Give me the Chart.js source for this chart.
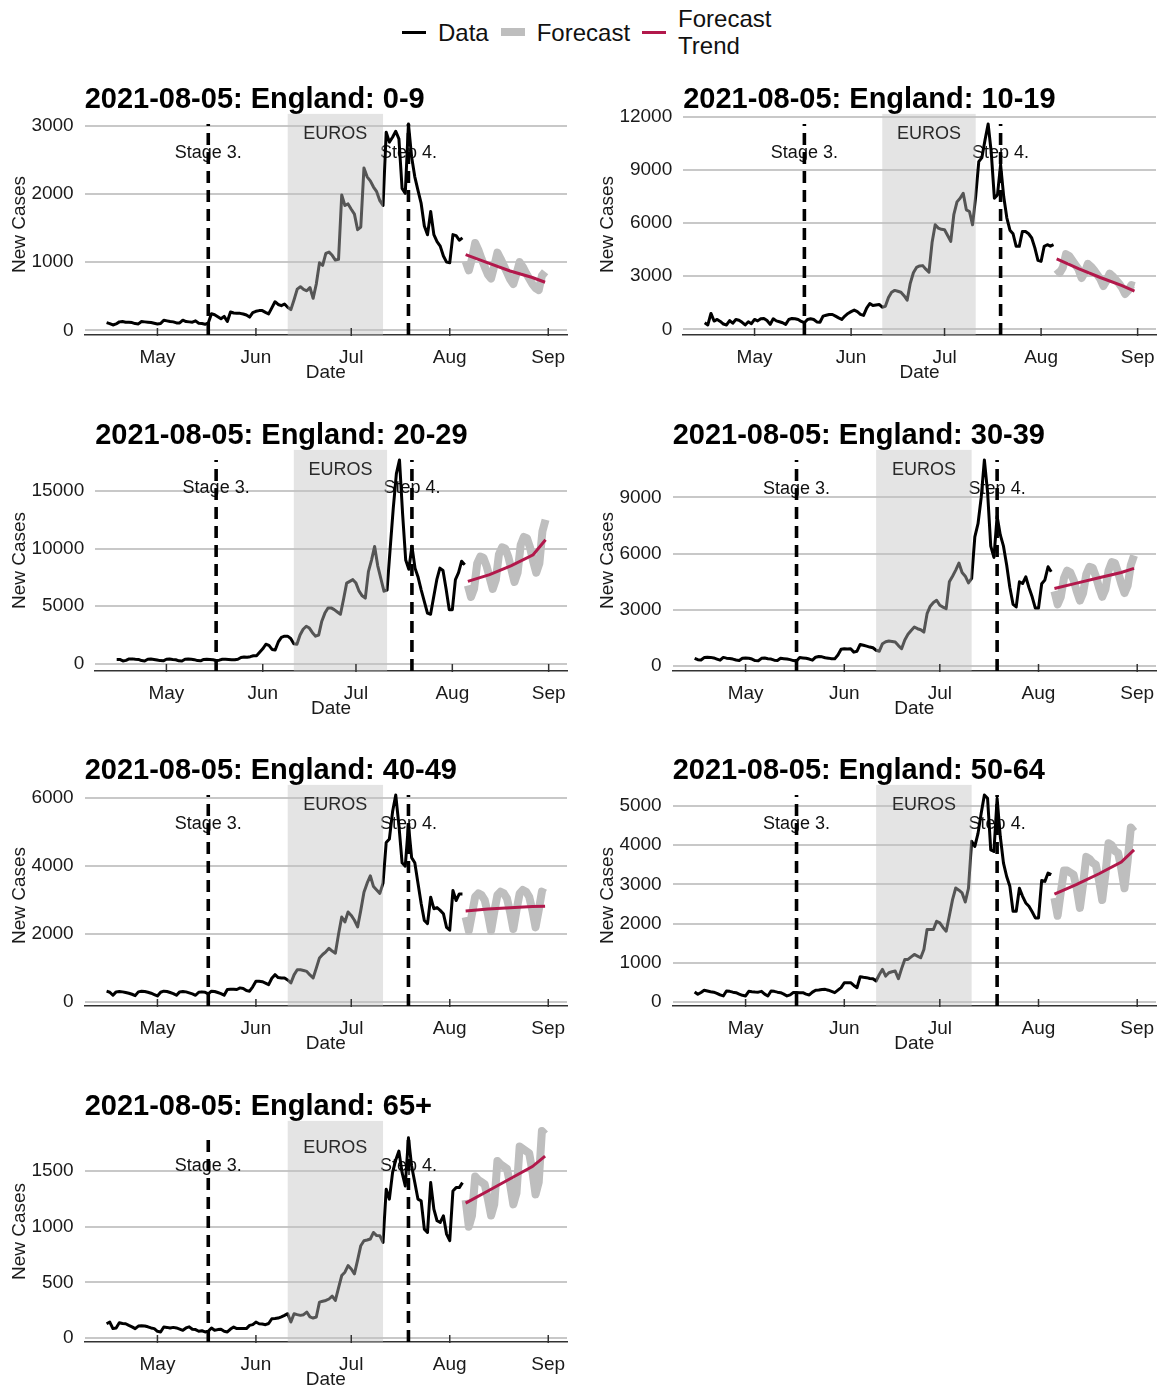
<!DOCTYPE html>
<html>
<head>
<meta charset="utf-8">
<script src="https://cdn.jsdelivr.net/npm/chart.js@4.4.1/dist/chart.umd.min.js"></script>
<style>
  body { margin: 0; background: #fff; }
  #page { position: relative; width: 1160px; height: 1388px; background: #fff; font-family: "Liberation Sans", Arial, sans-serif; }
  #legend { position: absolute; left: 402px; top: 5px; display: flex; align-items: center; font-size: 24px; color: #111; }
  #legend .key { display: inline-block; width: 24px; margin-right: 12px; }
  #legend .lab { margin-right: 12px; line-height: 27px; }
</style>
</head>
<body>
<div id="page">
  <div id="legend">
    <span class="key" style="height:3px;background:#000"></span><span class="lab">Data</span>
    <span class="key" style="height:8px;background:#bebebe"></span><span class="lab">Forecast</span>
    <span class="key" style="height:3px;background:#b2184b"></span><span class="lab">Forecast<br>Trend</span>
  </div>
</div>
<script>
// daily series start / forecast start
const firstDay = "2021-04-15";
const forecastFirstDay = "2021-08-06";
const trendDays = ["2021-08-06", "2021-08-13", "2021-08-20", "2021-08-27", "2021-08-31"];

const monthTickDays = ["2021-05-01", "2021-06-01", "2021-07-01", "2021-08-01", "2021-09-01"];
const monthLabels = ["May", "Jun", "Jul", "Aug", "Sep"];

const eurosStart = "2021-06-11";
const eurosEnd = "2021-07-11";
const eventDays = ["2021-05-17", "2021-07-19"];
const eventLabels = ["Stage 3.", "Step 4."];

const ageGroups = ["0-9", "10-19", "20-29", "30-39", "40-49", "50-64", "65+"];

// new cases, one value per day from 15 Apr to 5 Aug
const cases0to9 = [
  115, 100, 80, 95, 125, 130, 120,
  120, 115, 100, 95, 130, 125, 120,
  115, 105, 95, 100, 150, 140, 130,
  125, 110, 110, 150, 130, 125, 120,
  140, 105, 100, 90, 110, 245, 230,
  200, 170, 205, 130, 270, 255, 250,
  250, 240, 225, 195, 260, 280, 290,
  290, 265, 242, 330, 420, 380, 363,
  387, 340, 305, 450, 605, 640, 600,
  580, 629, 470, 680, 990, 953, 1127,
  1147, 1100, 1030, 1040, 1983, 1829, 1853,
  1775, 1703, 1475, 1514, 2380, 2250, 2190,
  2100, 2032, 1900, 1830, 2903, 2758, 2830,
  2917, 2806, 2080, 2008, 3024, 2540, 2250,
  2050, 1860, 1530, 1400, 1742, 1403, 1300,
  1234, 1089, 1000, 992, 1403, 1389, 1321,
  1355
];
const cases10to19 = [
  375, 250, 900, 470, 560, 450, 300,
  250, 500, 350, 560, 520, 400, 250,
  430, 320, 560, 480, 600, 620, 500,
  280, 600, 480, 430, 375, 280, 560,
  620, 600, 560, 450, 375, 560, 600,
  560, 420, 400, 750, 800, 844, 840,
  750, 650, 562, 750, 900, 1000, 1088,
  1000, 850, 788, 1200, 1463, 1350, 1380,
  1406, 1250, 1300, 1800, 2100, 2200, 2150,
  2100, 1900, 1650, 2600, 3200, 3500, 3580,
  3600, 3400, 3225, 4900, 5906, 5719, 5650,
  5625, 5300, 4969, 6500, 7200, 7400, 7688,
  6750, 6656, 5906, 7500, 9469, 9700, 10700,
  11600, 10000, 7406, 7594, 9300, 7500, 6300,
  5600, 5400, 4690, 4690, 5530, 5530, 5400,
  5160, 4600, 3900, 3840, 4690, 4780, 4700,
  4780
];
const cases20to29 = [
  380, 380, 250, 300, 420, 430, 400,
  380, 280, 250, 400, 420, 380, 330,
  280, 260, 400, 420, 380, 350, 260,
  250, 400, 420, 400, 360, 280, 260,
  380, 400, 380, 350, 290, 320, 400,
  400, 380, 360, 350, 400, 550, 600,
  577, 620, 700, 700, 1000, 1300, 1700,
  1600, 1250, 1200, 1900, 2300, 2400, 2400,
  2200, 1750, 1700, 2500, 3000, 3260, 3100,
  2700, 2400, 2500, 3700, 4400, 4850, 4850,
  4700, 4500, 4300, 5600, 7000, 7150, 7300,
  7000, 6300, 5900, 5700, 8000, 9000, 10180,
  8500, 7400, 6300, 6400, 10000, 13500, 16500,
  17680, 13000, 9000, 8200, 10200, 8300, 7500,
  6400, 5400, 4400, 4300, 5800, 7300, 8300,
  8100, 6500, 4700, 4700, 7300, 7900, 8900,
  8600
];
const cases30to39 = [
  420, 350, 330, 460, 480, 470, 440,
  380, 320, 470, 430, 410, 380, 330,
  300, 420, 440, 420, 380, 300, 290,
  420, 440, 400, 380, 320, 300, 420,
  400, 380, 350, 300, 280, 460, 440,
  420, 380, 320, 480, 520, 500, 450,
  430, 400, 393, 600, 900, 929, 920,
  929, 750, 800, 1160, 1120, 1071, 1020,
  982, 850, 800, 1200, 1300, 1340, 1320,
  1286, 1100, 929, 1400, 1700, 1900, 2090,
  2000, 1946, 1821, 2800, 3200, 3400, 3518,
  3250, 3150, 3071, 4500, 4800, 5125, 5500,
  5000, 4800, 4446, 4679, 6900, 7600, 9000,
  11000, 9300, 6400, 5800, 8000, 7000, 6400,
  5400, 4200, 3300, 3161, 4500, 4411, 4768,
  4200, 3700, 3100, 3100, 4400, 4600, 5300,
  5036
];
const cases40to49 = [
  320, 290, 200, 300, 310, 300, 280,
  260, 230, 190, 300, 320, 310, 290,
  260, 220, 180, 290, 320, 310, 280,
  250, 200, 300, 310, 300, 270, 240,
  200, 290, 300, 290, 240, 320, 310,
  280, 250, 200, 370, 380, 380, 370,
  417, 400, 340, 320, 450, 612, 612,
  600, 560, 515, 700, 806, 720, 709,
  709, 650, 563, 800, 951, 951, 930,
  903, 800, 709, 1000, 1300, 1400, 1480,
  1583, 1500, 1437, 2000, 2505, 2359, 2650,
  2550, 2408, 2214, 2700, 3233, 3500, 3718,
  3400, 3300, 3200, 3500, 4700, 4800, 5600,
  6097, 5200, 4100, 4000, 5223, 4252, 4100,
  3500, 2900, 2400, 2311, 3087, 2748, 2780,
  2700, 2602, 2200, 2117, 3282, 2990, 3184,
  3184
];
const cases50to64 = [
  254, 195, 240, 297, 280, 260, 250,
  220, 180, 153, 280, 270, 250, 237,
  200, 170, 153, 270, 260, 254, 250,
  270, 200, 153, 280, 270, 250, 237,
  200, 153, 180, 240, 240, 237, 237,
  200, 178, 250, 300, 305, 320, 322,
  300, 270, 237, 300, 364, 490, 490,
  490, 420, 364, 644, 630, 620, 600,
  593, 534, 700, 830, 660, 745, 770,
  788, 593, 850, 1085, 1085, 1150, 1212,
  1170, 1127, 1339, 1847, 1847, 1847, 2059,
  2017, 1900, 1805, 2200, 2610, 2907, 2850,
  2780, 2550, 2900, 4100, 3966, 4300, 4814,
  5280, 5195, 3881, 3839, 5195, 4220, 3542,
  3200, 2949, 2314, 2314, 2900, 2695, 2525,
  2441, 2300, 2144, 2144, 3100, 3076, 3288,
  3246
];
const cases65plus = [
  128, 143, 84, 90, 137, 130, 128,
  113, 100, 84, 107, 110, 107, 100,
  90, 84, 60, 54, 98, 95, 90,
  95, 90, 80, 69, 90, 100, 78,
  75, 60, 65, 54, 60, 90, 69,
  75, 78, 60, 54, 80, 98, 84,
  84, 84, 84, 113, 120, 143, 128,
  125, 119, 130, 173, 175, 179, 190,
  203, 218, 143, 218, 210, 203, 209,
  233, 190, 179, 188, 322, 330, 337,
  350, 376, 337, 450, 561, 591, 650,
  620, 576, 700, 829, 874, 880, 889,
  948, 920, 918, 859, 1336, 1247, 1485,
  1600, 1679, 1485, 1366, 1798, 1545, 1396,
  1247, 1232, 978, 948, 1396, 1157, 1053,
  1038, 1097, 933, 874, 1321, 1351, 1351,
  1396
];

// forecast, one value per day from 6 Aug to 31 Aug
const forecast0to9 = [1010, 880, 1050, 1280, 1180, 1050, 930, 820, 760, 940, 1140, 1050, 950, 850, 750, 680, 830, 1000, 930, 840, 760, 680, 620, 590, 800, 860];
const forecast10to19 = [3400, 3200, 3500, 4250, 4150, 3900, 3650, 3400, 2900, 3200, 3700, 3550, 3350, 3100, 2850, 2450, 2750, 3150, 3000, 2800, 2600, 2350, 2000, 2200, 2500, 2450];
const forecast20to29 = [6800, 5800, 6500, 8700, 9300, 9200, 8500, 7500, 6500, 7300, 9500, 10100, 10000, 9300, 8200, 7100, 7900, 10300, 11000, 10900, 10100, 8900, 7900, 8700, 11500, 12500];
const forecast30to39 = [4000, 3300, 3700, 4700, 5100, 5000, 4600, 4000, 3500, 3900, 4900, 5300, 5250, 4800, 4200, 3700, 4100, 5100, 5550, 5500, 5000, 4400, 3900, 4300, 5400, 5900];
const forecast40to49 = [2500, 2100, 2600, 3100, 3200, 3150, 3000, 2600, 2100, 2650, 3150, 3250, 3200, 3050, 2650, 2150, 2700, 3200, 3300, 3250, 3100, 2700, 2200, 2700, 3250, 3200];
const forecast50to64 = [2650, 2200, 2800, 3350, 3350, 3300, 3250, 2900, 2400, 3000, 3700, 3650, 3550, 3500, 3100, 2600, 3250, 4050, 4000, 3850, 3800, 3400, 2900, 3600, 4450, 4350];
const forecast65plus = [1240, 1000, 1100, 1450, 1420, 1400, 1380, 1250, 1100, 1200, 1590, 1560, 1540, 1520, 1380, 1200, 1300, 1720, 1700, 1680, 1660, 1500, 1290, 1400, 1860, 1830];

// forecast trend at trendDays
const trend0to9 = [1110, 990, 870, 775, 705];
const trend10to19 = [3975, 3430, 2930, 2470, 2160];
const trend20to29 = [7150, 7730, 8510, 9460, 10760];
const trend30to39 = [4143, 4430, 4720, 5000, 5214];
const trend40to49 = [2680, 2740, 2780, 2810, 2820];
const trend50to64 = [2750, 3000, 3270, 3570, 3880];
const trend65plus = [1211, 1320, 1430, 1540, 1634];

const yTicks0to9 = [0, 1000, 2000, 3000];
const yTicks10to19 = [0, 3000, 6000, 9000, 12000];
const yTicks20to29 = [0, 5000, 10000, 15000];
const yTicks30to39 = [0, 3000, 6000, 9000];
const yTicks40to49 = [0, 2000, 4000, 6000];
const yTicks50to64 = [0, 1000, 2000, 3000, 4000, 5000];
const yTicks65plus = [0, 500, 1000, 1500];

const allCases = [cases0to9, cases10to19, cases20to29, cases30to39, cases40to49, cases50to64, cases65plus];
const allForecasts = [forecast0to9, forecast10to19, forecast20to29, forecast30to39, forecast40to49, forecast50to64, forecast65plus];
const allTrends = [trend0to9, trend10to19, trend20to29, trend30to39, trend40to49, trend50to64, trend65plus];
const allYTicks = [yTicks0to9, yTicks10to19, yTicks20to29, yTicks30to39, yTicks40to49, yTicks50to64, yTicks65plus];

const FONT = "'Liberation Sans', Arial, sans-serif";
const TXT = "#1a1a1a";

const DAY0 = Date.UTC(2021, 0, 1);
function dayNum(s) {
  const p = s.split("-").map(Number);
  return (Date.UTC(p[0], p[1] - 1, p[2]) - DAY0) / 86400000;
}

// shaded EUROS window, event labels and inward ticks
const eventsPlugin = {
  id: "events",
  beforeDatasetsDraw(chart, args, opts) {
    const { ctx, scales: { x, y } } = chart;
    ctx.save();
    ctx.font = "18px " + FONT;
    ctx.fillStyle = "#111";
    ctx.textAlign = "center";
    ctx.textBaseline = "middle";
    eventDays.forEach((d, i) => {
      ctx.fillText(eventLabels[i], x.getPixelForValue(dayNum(d)), y.getPixelForValue(opts.peak * 0.86));
    });
    ctx.restore();
  },
  afterDatasetsDraw(chart, args, opts) {
    const { ctx, chartArea: a, scales: { x, y } } = chart;
    const x0 = x.getPixelForValue(dayNum(eurosStart));
    const x1 = x.getPixelForValue(dayNum(eurosEnd));
    ctx.save();
    ctx.fillStyle = "rgba(193,193,193,0.44)";
    ctx.fillRect(x0, a.top, x1 - x0, a.bottom - a.top);
    ctx.font = "18px " + FONT;
    ctx.fillStyle = "#2a2a2a";
    ctx.textAlign = "center";
    ctx.textBaseline = "middle";
    ctx.fillText("EUROS", (x0 + x1) / 2, y.getPixelForValue(opts.peak * 0.95));
    ctx.strokeStyle = "#333";
    ctx.lineWidth = 1.5;
    x.ticks.forEach(t => {
      const px = x.getPixelForValue(t.value);
      ctx.beginPath();
      ctx.moveTo(px, a.bottom + 1);
      ctx.lineTo(px, a.bottom - 7);
      ctx.stroke();
    });
    ctx.restore();
  }
};

const page = document.getElementById("page");
const d0 = dayNum(firstDay);
const f0 = dayNum(forecastFirstDay);
const monthTickVals = monthTickDays.map(dayNum);

ageGroups.forEach((group, i) => {
  const cases = allCases[i];
  const fc = allForecasts[i];
  const dataPts = cases.map((v, k) => ({ x: d0 + k, y: v }));
  const fcPts = fc.map((v, k) => ({ x: f0 + k, y: v }));
  const trendPts = allTrends[i].map((v, k) => ({ x: dayNum(trendDays[k]), y: v }));

  const peak = Math.max(...cases);
  const lo = Math.min(...cases, ...fc);
  const hi = Math.max(...cases, ...fc);
  const yMin = lo - 0.05 * (hi - lo);
  const yMax = hi + 0.05 * (hi - lo);
  const xLo = d0, xHi = f0 + fc.length - 1;
  const xPad = 0.05 * (xHi - xLo);

  const col = i % 2, row = Math.floor(i / 2);
  const w = col === 0 ? 575 : 580, h = 301;
  const cv = document.createElement("canvas");
  cv.width = w; cv.height = h;
  cv.style.cssText = "position:absolute;left:" + (col * 580) + "px;top:" + Math.round(82 + row * 335.7) + "px;width:" + w + "px;height:" + h + "px";
  page.appendChild(cv);

  const vline = (d) => ({
    data: [{ x: dayNum(d), y: yMin }, { x: dayNum(d), y: peak }],
    borderColor: "#000", borderWidth: 3.6, borderDash: [12, 7], pointRadius: 0
  });

  new Chart(cv.getContext("2d"), {
    type: "line",
    data: {
      datasets: [
        { label: "Forecast Trend", data: trendPts, borderColor: "#b2184b", borderWidth: 3, pointRadius: 0, tension: 0 },
        { label: "Forecast", data: fcPts, borderColor: "#bebebe", borderWidth: 8, pointRadius: 0, tension: 0, borderJoinStyle: "round" },
        { label: "Data", data: dataPts, borderColor: "#000", borderWidth: 3, pointRadius: 0, tension: 0, borderJoinStyle: "round" },
        vline(eventDays[0]),
        vline(eventDays[1])
      ]
    },
    options: {
      responsive: false,
      animation: false,
      events: [],
      layout: { padding: { left: col === 0 ? 8.6 : 16.6, right: col === 0 ? 8 : 4, top: 0, bottom: 1 } },
      plugins: {
        legend: { display: false },
        tooltip: { enabled: false },
        title: {
          display: true,
          text: "2021-08-05: England: " + group,
          align: "start",
          fullSize: false,
          color: "#000",
          font: { family: FONT, size: 29, weight: "bold", lineHeight: 1.1 },
          padding: { top: 2, bottom: -2 }
        },
        events: { peak: peak }
      },
      scales: {
        x: {
          type: "linear",
          min: xLo - xPad,
          max: xHi + xPad,
          afterBuildTicks: (axis) => { axis.ticks = monthTickVals.map(v => ({ value: v })); },
          ticks: {
            autoSkip: false, maxRotation: 0, padding: 0, color: TXT,
            font: { family: FONT, size: 19, lineHeight: 1 },
            callback: (v) => monthLabels[monthTickVals.indexOf(v)]
          },
          grid: { display: true, drawOnChartArea: false, drawTicks: true, tickLength: 13, tickColor: "rgba(0,0,0,0)" },
          border: { display: true, color: "#333", width: 1.5 },
          title: {
            display: true, text: "Date", color: TXT,
            font: { family: FONT, size: 19, lineHeight: 1 },
            padding: { top: -4, bottom: 0 }
          }
        },
        y: {
          type: "linear",
          min: yMin,
          max: yMax,
          afterBuildTicks: (axis) => { axis.ticks = allYTicks[i].map(v => ({ value: v })); },
          ticks: {
            padding: 11, color: TXT,
            font: { family: FONT, size: 19 },
            callback: (v) => String(v)
          },
          grid: { color: "#c8c8c8", lineWidth: 2, drawTicks: false },
          border: { display: false },
          title: {
            display: true, text: "New Cases", color: TXT,
            font: { family: FONT, size: 19, lineHeight: 1.2 },
            padding: { top: 0, bottom: -11 }
          }
        }
      }
    },
    plugins: [eventsPlugin]
  });
});
</script>
</body>
</html>
